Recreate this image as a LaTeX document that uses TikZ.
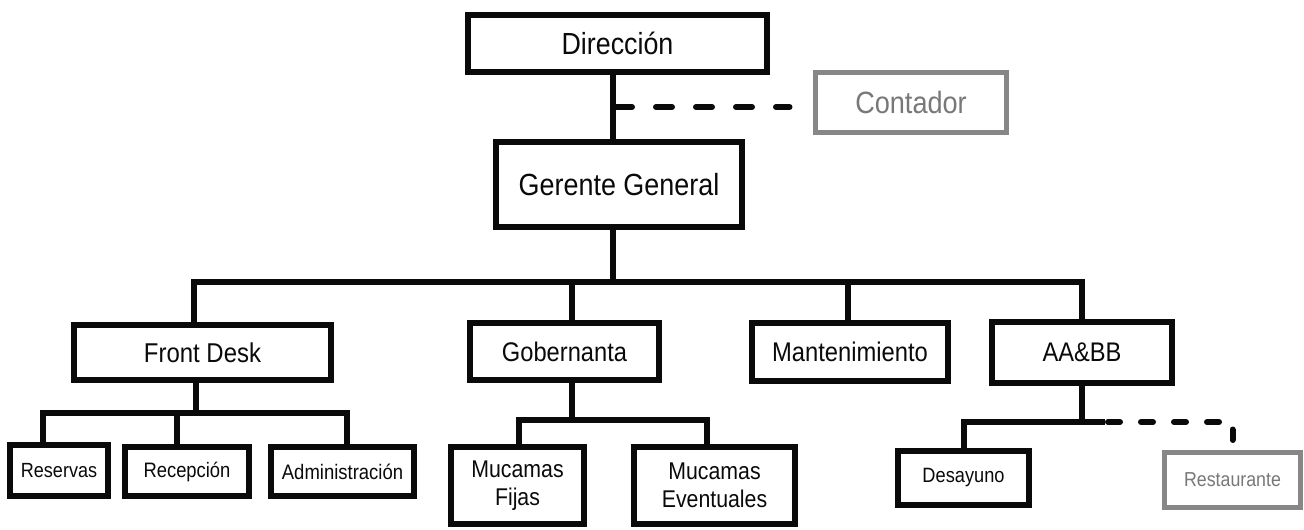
\documentclass[tikz,border=0pt]{standalone}
\usepackage{fontspec}
\setmainfont{Liberation Sans}[FakeStretch=0.88]
\usetikzlibrary{calc}
\definecolor{boxgray}{RGB}{135,135,135}
\definecolor{txtgray}{RGB}{120,120,120}
\definecolor{ink}{RGB}{10,10,10}
\tikzset{
  box/.style={draw=ink, line width=6pt, inner sep=0pt, align=center, fill=white, text=ink},
  graybox/.style={draw=boxgray, line width=5pt, inner sep=0pt, align=center, text=txtgray, fill=white},
  conn/.style={draw=ink, line width=6pt, line cap=rect},
  dconn/.style={draw=ink, line width=6pt, line cap=round, dash pattern=on 16pt off 24pt},
  dconnb/.style={draw=ink, line width=6pt, line cap=round, dash pattern=on 12pt off 21pt},
  fs/.style={font=\fontsize{#1}{#1}\selectfont}
}
\begin{document}
\begin{tikzpicture}[x=1pt,y=-1pt]
\useasboundingbox (0,0) rectangle (1304,530);
% helper coordinates
\coordinate (bus) at (0,282);
\coordinate (fbus) at (0,413);
\coordinate (gbus) at (0,420);
\coordinate (abus) at (0,422);
\coordinate (dj) at (0,107);
% nodes
\node[box, minimum width=299pt, minimum height=57pt, fs=30.5] (dir) at (617.5,43.5) {Dirección};
\node[graybox, minimum width=191pt, minimum height=60pt, fs=30.8] (cont) at (911,102.5) {Contador};
\node[box, minimum width=246pt, minimum height=85pt, fs=30.6] (ger) at (619,184.5) {Gerente General};
\node[box, minimum width=257pt, minimum height=55pt, fs=27.2] (front) at (202.5,352.5) {Front Desk};
\node[box, minimum width=189pt, minimum height=57pt, fs=26.9] (gob) at (564.5,351.5) {Gobernanta};
\node[box, minimum width=196pt, minimum height=58pt, fs=27] (man) at (850,352) {Mantenimiento};
\node[box, minimum width=180pt, minimum height=61pt, fs=26.9] (aabb) at (1082,352.5) {AA\&BB};
\node[box, minimum width=98pt, minimum height=51pt, fs=20.5] (res) at (59,470.5) {Reservas};
\node[box, minimum width=124pt, minimum height=49pt, fs=20.9] (rec) at (187,471.5) {Recepción};
\node[box, minimum width=143pt, minimum height=49pt, fs=21] (adm) at (342.5,471.5) {Administración};
\node[box, minimum width=133pt, minimum height=77pt, font=\fontsize{24.2}{28}\selectfont] (fij) at (517.5,485.5) {Mucamas\\Fijas};
\node[box, minimum width=161pt, minimum height=77pt, font=\fontsize{24.2}{28}\selectfont] (eve) at (714.5,485.5) {Mucamas\\Eventuales};
\node[box, minimum width=131pt, minimum height=54pt, fs=20.7] (des) at (963.5,478) {Desayuno};
\node[graybox, minimum width=136pt, minimum height=55pt, fs=20.2] (rest) at (1232.5,480) {Restaurante};
% connectors
\draw[conn] ([xshift=-4.5pt]dir.south) -- ([xshift=-6pt]ger.north);
\draw[dconn, shorten <=3pt, shorten >=23.5pt] ([xshift=-4.5pt]dir.south |- dj) -- (dj -| cont.west);
\draw[conn] ([xshift=-6pt]ger.south) -- ([xshift=-6pt]ger.south |- bus);
\draw[conn] ([xshift=-8.5pt]front.north) -- ([xshift=-8.5pt]front.north |- bus) -| (aabb.north);
\draw[conn] ([xshift=7.5pt]gob.north) -- ([xshift=7.5pt]gob.north |- bus);
\draw[conn] ([xshift=-2pt]man.north) -- ([xshift=-2pt]man.north |- bus);
% front desk
\draw[conn] ([xshift=-6.5pt]front.south) -- ([xshift=-6.5pt]front.south |- fbus);
\draw[conn] ([xshift=-16pt]res.north) -- ([xshift=-16pt]res.north |- fbus) -| ([xshift=4.5pt]adm.north);
\draw[conn] ([xshift=-10pt]rec.north) -- ([xshift=-10pt]rec.north |- fbus);
% gobernanta
\draw[conn] ([xshift=7.5pt]gob.south) -- ([xshift=7.5pt]gob.south |- gbus);
\draw[conn] ([xshift=1.5pt]fij.north) -- ([xshift=1.5pt]fij.north |- gbus) -| ([xshift=-7.5pt]eve.north);
% aa&bb
\draw[conn] (aabb.south) -- (aabb.south |- abus) -| (des.north);
\draw[conn] (aabb.south |- abus) -- ++(20,0);
\draw[dconnb, shorten <=26pt, shorten >=10pt] (aabb.south |- abus) -- (rest.north |- abus) -- (rest.north);
\end{tikzpicture}
\end{document}
